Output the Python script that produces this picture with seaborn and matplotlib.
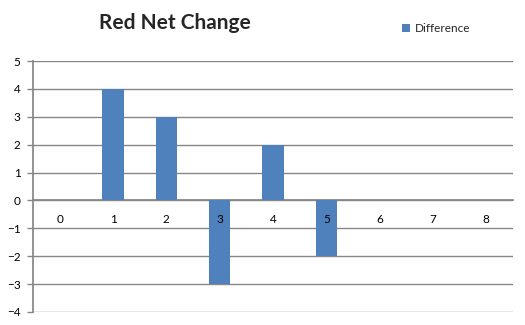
import matplotlib
matplotlib.use("Agg")
import matplotlib.pyplot as plt
import seaborn as sns
import pandas as pd
from matplotlib.ticker import FixedLocator, MultipleLocator

# Net change per category
categories = [0, 1, 2, 3, 4, 5, 6, 7, 8]
difference = [0, 4, 3, -3, 2, -2, 0, 0, 0]

series_name = "Difference"
title = "Red Net Change"
bar_color = "#4F81BD"
grid_color = "#868686"

sns.set_theme(style="white")
plt.rcParams["font.family"] = ["Lato", "DejaVu Sans"]

df = pd.DataFrame({"category": [str(c) for c in categories], series_name: difference})

fig = plt.figure(figsize=(5.25, 3.25), dpi=100)
ax = fig.add_axes([0.063, 0.04, 0.914, 0.772])

sns.barplot(data=df, x="category", y=series_name, color=bar_color, width=0.4,
            saturation=1, ax=ax, label=series_name, legend=False,
            linewidth=0, zorder=1.5)

ax.set_xlim(-0.5, len(categories) - 0.5)
ax.set_ylim(-4, 5)
ax.yaxis.set_major_locator(MultipleLocator(1))

# Horizontal gridlines behind the bars; tick labels are drawn above the bars
ax.set_axisbelow(False)
for yv in range(-4, 6):
    ax.axhline(yv, color=grid_color, linewidth=1, zorder=0.5)

# Category axis sits on the zero line
for s in ["top", "right"]:
    ax.spines[s].set_visible(False)
ax.spines["bottom"].set_position(("data", 0))
ax.spines["bottom"].set_color(grid_color)
ax.spines["bottom"].set_zorder(1)
ax.spines["left"].set_color(grid_color)

ax.set_xlabel("")
ax.set_ylabel("")
ax.tick_params(axis="x", which="major", length=0, pad=10, labelsize=8.5, colors="black")
ax.xaxis.set_minor_locator(FixedLocator([i + 0.5 for i in range(-1, len(categories))]))
ax.tick_params(axis="x", which="minor", length=4, width=1, color=grid_color, direction="out")
ax.tick_params(axis="y", which="major", length=4, width=1, color=grid_color,
               left=True, labelsize=8.5, pad=5, labelcolor="black")

fig.text(0.333, 0.93, title, ha="center", va="center", fontsize=15, fontweight="bold")

handles = [ax.patches[0]]
fig.legend(handles, [series_name], loc="center left", bbox_to_anchor=(0.757, 0.913),
           frameon=False, fontsize=8.5, handlelength=0.7, handleheight=0.7,
           handletextpad=0.4, borderaxespad=0)

fig.savefig("out.png", dpi=100, facecolor="white")
